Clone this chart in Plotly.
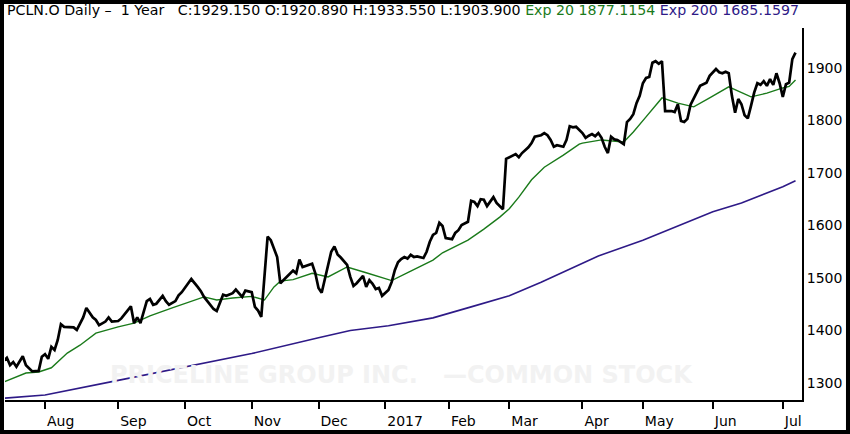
import plotly.graph_objects as go

# closing prices (trading days, PCLN.O)
close_dates = [
    '2016-07-13', '2016-07-14', '2016-07-15', '2016-07-18', '2016-07-19', '2016-07-20',
    '2016-07-21', '2016-07-22', '2016-07-25', '2016-07-26', '2016-07-28', '2016-07-29',
    '2016-08-01', '2016-08-02', '2016-08-03', '2016-08-04', '2016-08-05', '2016-08-08',
    '2016-08-09', '2016-08-10', '2016-08-12', '2016-08-15', '2016-08-17', '2016-08-18',
    '2016-08-22', '2016-08-23', '2016-08-24', '2016-08-26', '2016-08-29', '2016-08-30',
    '2016-09-01', '2016-09-02', '2016-09-07', '2016-09-08', '2016-09-09', '2016-09-12',
    '2016-09-13', '2016-09-14', '2016-09-15', '2016-09-16', '2016-09-19', '2016-09-20',
    '2016-09-21', '2016-09-22', '2016-09-23', '2016-09-26', '2016-09-28', '2016-09-29',
    '2016-09-30', '2016-10-04', '2016-10-05', '2016-10-07', '2016-10-10', '2016-10-11',
    '2016-10-13', '2016-10-14', '2016-10-17', '2016-10-19', '2016-10-20', '2016-10-24',
    '2016-10-25', '2016-10-26', '2016-10-27', '2016-10-28', '2016-11-01', '2016-11-02',
    '2016-11-03', '2016-11-04', '2016-11-08', '2016-11-09', '2016-11-11', '2016-11-14',
    '2016-11-15', '2016-11-16', '2016-11-18', '2016-11-21', '2016-11-22', '2016-11-23',
    '2016-11-25', '2016-11-29', '2016-11-30', '2016-12-01', '2016-12-02', '2016-12-05',
    '2016-12-06', '2016-12-07', '2016-12-08', '2016-12-09', '2016-12-12', '2016-12-14',
    '2016-12-15', '2016-12-16', '2016-12-19', '2016-12-20', '2016-12-21', '2016-12-22',
    '2016-12-23', '2016-12-27', '2016-12-28', '2016-12-29', '2016-12-30', '2017-01-04',
    '2017-01-05', '2017-01-06', '2017-01-09', '2017-01-10', '2017-01-11', '2017-01-12',
    '2017-01-13', '2017-01-17', '2017-01-18', '2017-01-20', '2017-01-23', '2017-01-24',
    '2017-01-25', '2017-01-26', '2017-01-27', '2017-01-30', '2017-01-31', '2017-02-02',
    '2017-02-03', '2017-02-06', '2017-02-07', '2017-02-09', '2017-02-10', '2017-02-13',
    '2017-02-14', '2017-02-15', '2017-02-16', '2017-02-17', '2017-02-22', '2017-02-23',
    '2017-02-27', '2017-02-28', '2017-03-02', '2017-03-03', '2017-03-06', '2017-03-07',
    '2017-03-09', '2017-03-10', '2017-03-13', '2017-03-14', '2017-03-15', '2017-03-16',
    '2017-03-17', '2017-03-20', '2017-03-21', '2017-03-22', '2017-03-24', '2017-03-27',
    '2017-03-28', '2017-03-29', '2017-03-30', '2017-04-03', '2017-04-04', '2017-04-05',
    '2017-04-06', '2017-04-07', '2017-04-10', '2017-04-11', '2017-04-12', '2017-04-13',
    '2017-04-17', '2017-04-18', '2017-04-19', '2017-04-21', '2017-04-24', '2017-04-25',
    '2017-04-26', '2017-04-27', '2017-04-28', '2017-05-01', '2017-05-02', '2017-05-03',
    '2017-05-04', '2017-05-05', '2017-05-08', '2017-05-09', '2017-05-10', '2017-05-12',
    '2017-05-15', '2017-05-16', '2017-05-17', '2017-05-18', '2017-05-19', '2017-05-22',
    '2017-05-23', '2017-05-24', '2017-05-25', '2017-05-26', '2017-05-30', '2017-05-31',
    '2017-06-02', '2017-06-05', '2017-06-06', '2017-06-07', '2017-06-08', '2017-06-09',
    '2017-06-12', '2017-06-13', '2017-06-14', '2017-06-15', '2017-06-16', '2017-06-19',
    '2017-06-20', '2017-06-21', '2017-06-22', '2017-06-23', '2017-06-26', '2017-06-27',
    '2017-06-28', '2017-06-29', '2017-06-30', '2017-07-03', '2017-07-05', '2017-07-06',
    '2017-07-07', '2017-07-10',
]
close_values = [
    1342, 1348, 1334, 1340, 1331, 1342, 1351, 1334, 1327, 1322, 1323, 1350,
    1355, 1346, 1369, 1363, 1382, 1412, 1407, 1407, 1406, 1401, 1425, 1443,
    1425, 1420, 1410, 1417, 1425, 1417, 1418, 1423, 1439, 1446, 1414, 1425,
    1414, 1435, 1456, 1460, 1449, 1451, 1458, 1466, 1456, 1449, 1456, 1467,
    1473, 1489, 1498, 1483, 1475, 1464, 1449, 1441, 1437, 1468, 1466, 1471,
    1478, 1470, 1464, 1476, 1473, 1445, 1438, 1426, 1579, 1572, 1540, 1490,
    1496, 1502, 1514, 1509, 1535, 1521, 1523, 1527, 1509, 1481, 1472, 1498,
    1528, 1550, 1560, 1545, 1539, 1525, 1502, 1485, 1490, 1498, 1504, 1483,
    1496, 1489, 1479, 1481, 1466, 1477, 1492, 1515, 1530, 1536, 1540, 1537,
    1544, 1540, 1541, 1538, 1550, 1569, 1582, 1586, 1605, 1599, 1576, 1574,
    1586, 1591, 1601, 1607, 1647, 1645, 1637, 1650, 1649, 1637, 1654, 1643,
    1631, 1727, 1734, 1736, 1730, 1738, 1749, 1757, 1769, 1771, 1772, 1776,
    1772, 1763, 1750, 1753, 1750, 1763, 1789, 1787, 1788, 1776, 1767, 1771,
    1774, 1770, 1776, 1767, 1750, 1738, 1769, 1764, 1763, 1755, 1797, 1803,
    1812, 1833, 1847, 1871, 1881, 1883, 1910, 1913, 1908, 1913, 1818, 1818,
    1816, 1831, 1799, 1797, 1803, 1830, 1841, 1854, 1866, 1869, 1872, 1885,
    1898, 1892, 1890, 1893, 1890, 1847, 1815, 1841, 1831, 1810, 1804, 1828,
    1853, 1871, 1868, 1875, 1866, 1879, 1868, 1890, 1871, 1845, 1869, 1872,
    1917, 1929.15,
]

# 20-day exponential average
ema20_dates = [
    '2016-07-13', '2016-07-22', '2016-07-28', '2016-08-03', '2016-08-10', '2016-08-16',
    '2016-08-23', '2016-09-01', '2016-09-09', '2016-09-16', '2016-09-27', '2016-10-05',
    '2016-10-11', '2016-10-17', '2016-10-24', '2016-11-01', '2016-11-07', '2016-11-10',
    '2016-11-14', '2016-11-18', '2016-11-29', '2016-12-06', '2016-12-14', '2016-12-22',
    '2017-01-05', '2017-01-13', '2017-01-25', '2017-01-30', '2017-02-09', '2017-02-16',
    '2017-02-24', '2017-03-01', '2017-03-06', '2017-03-10', '2017-03-16', '2017-03-24',
    '2017-03-31', '2017-04-03', '2017-04-11', '2017-04-21', '2017-04-26', '2017-05-02',
    '2017-05-09', '2017-05-16', '2017-05-23', '2017-05-31', '2017-06-08', '2017-06-19',
    '2017-06-26', '2017-07-03', '2017-07-06', '2017-07-10',
]
ema20_values = [
    1302, 1319, 1321, 1329, 1357, 1372,
    1395, 1407, 1414, 1428, 1443, 1456,
    1464, 1458, 1462, 1465, 1458, 1483,
    1494, 1497, 1509, 1502, 1521, 1510,
    1495, 1513, 1534, 1548, 1572, 1593,
    1616, 1632, 1654, 1687, 1711, 1734,
    1755, 1757, 1763, 1759, 1778, 1807,
    1843, 1833, 1826, 1843, 1864, 1845,
    1852, 1862, 1865, 1877.1154,
]

# 200-day exponential average
ema200_dates = [
    '2016-07-13', '2016-08-01', '2016-09-01', '2016-10-03', '2016-11-01', '2016-12-01',
    '2016-12-15', '2017-01-04', '2017-01-25', '2017-02-10', '2017-03-01', '2017-03-15',
    '2017-04-03', '2017-04-10', '2017-05-01', '2017-06-01', '2017-06-14', '2017-07-03',
    '2017-07-10',
]
ema200_values = [
    1271, 1277, 1305, 1331, 1356, 1386,
    1400, 1409, 1424, 1445, 1466, 1492,
    1528, 1542, 1572, 1626, 1643, 1674,
    1685.1597,
]

holidays = ['2016-09-05', '2016-11-24', '2016-12-26', '2017-01-02', '2017-01-16',
            '2017-02-20', '2017-04-14', '2017-05-29', '2017-07-04']

month_ticks = ['2016-08-01', '2016-09-01', '2016-10-03', '2016-11-01', '2016-12-01',
               '2017-01-03', '2017-02-01', '2017-03-01', '2017-04-03', '2017-05-01',
               '2017-06-01', '2017-07-03']
month_labels = ['Aug', 'Sep', 'Oct', 'Nov', 'Dec', '2017',
                'Feb', 'Mar', 'Apr', 'May', 'Jun', 'Jul']

price_ticks = [1300, 1400, 1500, 1600, 1700, 1800, 1900]

GREEN = '#1a7a1a'
PURPLE = '#2e1a87'
FONT = 'DejaVu Sans'
NB = '\u00a0'

fig = go.Figure()
fig.add_trace(go.Scatter(x=ema200_dates, y=ema200_values, mode='lines',
                         line=dict(color=PURPLE, width=1.6)))
fig.add_trace(go.Scatter(x=ema20_dates, y=ema20_values, mode='lines',
                         line=dict(color=GREEN, width=1.4)))
fig.add_trace(go.Scatter(x=close_dates, y=close_values, mode='lines',
                         line=dict(color='black', width=2.7)))

header = ('PCLN.O Daily –' + NB * 2 + '1 Year' + NB * 3
          + 'C:1929.150 O:1920.890 H:1933.550 L:1903.900 '
          + '<span style="color:%s">Exp 20 1877.1154</span> ' % GREEN
          + '<span style="color:%s">Exp 200 1685.1597</span>' % PURPLE)

fig.update_layout(
    width=850,
    height=434,
    margin=dict(l=5, r=48, t=28, b=34),
    paper_bgcolor='white',
    plot_bgcolor='white',
    showlegend=False,
    font=dict(family=FONT, size=14, color='black'),
    xaxis=dict(
        type='date',
        range=['2016-07-13 10:00', '2017-07-12 01:00'],
        rangebreaks=[dict(bounds=['sat', 'mon']), dict(values=holidays)],
        tickvals=month_ticks,
        ticktext=month_labels,
        ticks='outside',
        ticklen=7,
        tickwidth=2,
        tickcolor='black',
        ticklabelposition='outside right',
        ticklabelstandoff=7,
        showline=True,
        linecolor='black',
        linewidth=2,
        showgrid=False,
        zeroline=False,
    ),
    yaxis=dict(
        side='right',
        range=[1267.6, 1976.2],
        tickvals=price_ticks,
        ticks='',
        showline=True,
        linecolor='black',
        linewidth=2,
        showgrid=False,
        zeroline=False,
        ticklabelstandoff=0,
    ),
    annotations=[
        dict(text=header, xref='paper', yref='paper', x=0.0, y=1.048,
             xanchor='left', yanchor='middle', showarrow=False,
             font=dict(family=FONT, size=14.2, color='black')),
        dict(text='PRICELINE GROUP INC.' + NB * 3 + '—COMMON STOCK',
             xref='paper', yref='paper', x=0.497, y=0.067,
             xanchor='center', yanchor='middle', showarrow=False,
             font=dict(family=FONT, size=24, color='#f2f2f2', weight='bold')),
    ],
    shapes=[
        # black frame round the picture
        dict(type='rect', xref='paper', yref='paper',
             x0=-0.00627, x1=1.0602, y0=-0.0914, y1=1.0753,
             line=dict(color='black', width=8), fillcolor='rgba(0,0,0,0)'),
    ],
)

# the page has a default 8px body margin; drop it so the figure fills the window
fig.write_html("out.html", config={'displayModeBar': False},
               post_script="document.body.style.margin='0';")
